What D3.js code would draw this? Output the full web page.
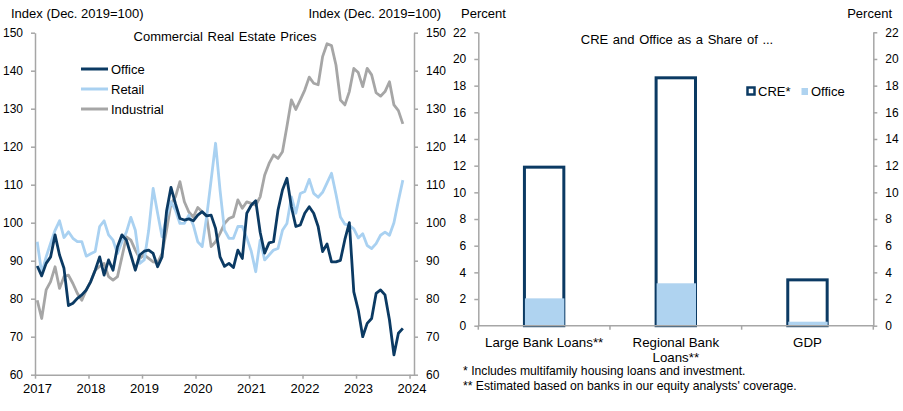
<!DOCTYPE html>
<html>
<head>
<meta charset="utf-8">
<script src="https://cdn.jsdelivr.net/npm/d3@7/dist/d3.min.js"></script>
<style>
    body { margin: 0; background: #fff; }
    svg { font-family: "Liberation Sans", Arial, sans-serif; }
    .axis path, .axis line { stroke: #a6a6a6; stroke-width: 1.5; }
    .axis text { fill: #000; font-size: 12px; }
    .x.axis text { font-size: 13px; }
    .label { font-size: 13px; fill: #000; }
</style>
</head>
<body>
<svg id="chart" width="903" height="411"></svg>
<script>
//Data - monthly index, Jan 2017 ... Nov 2023 (Dec. 2019=100)
const yearLabels = ['2017', '2018', '2019', '2020', '2021', '2022', '2023', '2024'];
const priceTicks = [60, 70, 80, 90, 100, 110, 120, 130, 140, 150];

const officeIndex = [
    88.6, 86, 89.3, 91, 96.8, 91.5, 88, 78.2, 78.8, 80.1, 81, 82.3,
    84.5, 87.5, 91, 86.2, 90.2, 87.5, 93.7, 96.8, 95.4, 91.5, 87.5, 91.5,
    92.5, 92.8, 91.9, 88.4, 91, 103, 109.3, 105, 101.1, 100.7, 101, 100.5,
    102, 102.9, 101.8, 102, 98.5, 91, 88.5, 89.3, 88.2, 92.8, 90.6, 102.5,
    104.6, 105.8, 97.5, 92, 94.7, 95, 103.3, 108.6, 111.7, 104.2, 99, 99.4,
    102.5, 104.2, 102.5, 99, 92.4, 94.4, 89.7, 89.7, 90.1, 95.6, 100, 81.8,
    77, 70, 73.5, 74.8, 81.4, 82.3, 81, 74.4, 65.2, 70.9, 72.2
];
const retailIndex = [
    95, 86.7, 91, 94.6, 98, 100.5, 96.1, 97.6, 95.9, 95, 95, 91.2,
    91.8, 92.4, 99, 100.5, 96.8, 95.4, 91.9, 95, 97.5, 101.4, 98, 89.3,
    90.2, 98, 109, 102.5, 96.3, 101.6, 105.5, 103.3, 99.8, 99.8, 102, 99.4,
    95, 93.7, 101.6, 111.2, 120.9, 108.6, 98, 95.9, 95.9, 99, 99, 96,
    92.5, 87.1, 95.4, 90.2, 91.5, 92.8, 93.2, 98, 99.8, 106.8, 102.5, 107.7,
    108.2, 111.4, 107.7, 106.7, 108, 110.5, 113, 107.5, 101.5, 99.6, 99.3, 98.4,
    96, 97.1, 94, 93.2, 94.5, 96.7, 97.5, 96.7, 100, 105.8, 111.2
];
const industrialIndex = [
    79.6, 74.8, 82.3, 84.5, 88.4, 82.7, 85.8, 86.2, 84, 81.4, 79.6, 82.3,
    84.5, 87.5, 88.5, 89.3, 85.8, 84.9, 85.8, 91, 96.3, 95.4, 92.8, 90.6,
    91.5, 90.6, 89.7, 89.5, 91.9, 98, 105, 106.8, 110.8, 105.5, 102.8, 101.5,
    104, 102.9, 101.6, 93.7, 95, 97.2, 99.8, 101.1, 101.6, 106, 103.8, 105.5,
    105.1, 104.6, 106.8, 112.5, 115.6, 117.8, 116.9, 118.7, 125.3, 132.3, 129.8, 132.3,
    134.9, 138.3, 136.7, 136.3, 143.7, 147.1, 146.6, 141.5, 132.3, 131, 134.5, 140.6,
    139.5, 135.8, 140.6, 138.9, 134.2, 133.3, 134.5, 137.1, 131, 129.5, 126
];

//Data - CRE and office shares, percent
const shareCategories = ['Large Bank Loans**', 'Regional Bank Loans**', 'GDP'];
const creShare = [12.0, 18.7, 3.55];
const officeShare = [2.05, 3.18, 0.3];
const shareTicks = [0, 2, 4, 6, 8, 10, 12, 14, 16, 18, 20, 22];

const colors = { office: '#0b3a63', retail: '#a9d1f1', industrial: '#a6a6a6', officeBar: '#afd3f0' };

const svg = d3.select('#chart');

function drawPrices() {
    const left = 35, right = 414, top = 32.7, bottom = 374.7;
    // 85 month slots, points sit between tick marks
    const xScale = d3.scaleLinear().domain([0, 85]).range([left, right]);
    const yScale = d3.scaleLinear().domain([60, 150]).range([bottom, top]);

    const g = svg.append('g').attr('class', 'prices');

    //axes
    g.append('g').attr('class', 'y axis')
        .attr('transform', `translate(${left},0)`)
        .call(d3.axisLeft(yScale).tickValues(priceTicks).tickSizeInner(4).tickSizeOuter(0).tickPadding(8));
    g.append('g').attr('class', 'y axis')
        .attr('transform', `translate(${right},0)`)
        .call(d3.axisRight(yScale).tickValues(priceTicks).tickSizeInner(4).tickSizeOuter(0).tickPadding(8));
    const xAxisDraw = g.append('g').attr('class', 'x axis')
        .attr('transform', `translate(0,${bottom})`)
        .call(d3.axisBottom(xScale).tickValues(d3.range(0, 85, 12))
            .tickFormat((d, i) => yearLabels[i]).tickSizeInner(4).tickSizeOuter(0).tickPadding(5));
    xAxisDraw.selectAll('text').attr('dx', '2');

    //lines - industrial at the back, office on top
    const line = d3.line().x((d, i) => xScale(i + 0.5)).y(d => yScale(d));
    const series = [
        { name: 'Industrial', values: industrialIndex, color: colors.industrial },
        { name: 'Retail', values: retailIndex, color: colors.retail },
        { name: 'Office', values: officeIndex, color: colors.office }
    ];
    g.selectAll('.series').data(series).join('path')
        .attr('class', 'series')
        .attr('d', d => line(d.values))
        .attr('fill', 'none')
        .attr('stroke', d => d.color)
        .attr('stroke-width', 2.8)
        .attr('stroke-linejoin', 'round');

    //titles
    svg.append('text').attr('class', 'label').attr('x', 11).attr('y', 18).text('Index (Dec. 2019=100)');
    svg.append('text').attr('class', 'label').attr('x', 441).attr('y', 18)
        .attr('text-anchor', 'end').text('Index (Dec. 2019=100)');
    g.append('text').attr('class', 'label').attr('x', 225).attr('y', 41)
        .attr('text-anchor', 'middle').style('word-spacing', '1px').text('Commercial Real Estate Prices');

    //legend
    const legend = g.selectAll('.legend').data(series.slice().reverse()).join('g')
        .attr('class', 'legend')
        .attr('transform', (d, i) => `translate(81,${69 + i * 20})`);
    legend.append('line').attr('x1', 0).attr('x2', 27)
        .attr('stroke', d => d.color).attr('stroke-width', 3);
    legend.append('text').attr('class', 'label').attr('x', 30).attr('y', 4.5).text(d => d.name);
}

function drawShares() {
    const left = 478.3, right = 873.3, top = 32.3, bottom = 325.7;
    const xScale = d3.scaleBand().domain(shareCategories).range([left, right])
        .paddingInner(0.678).paddingOuter(0.339);
    const yScale = d3.scaleLinear().domain([0, 22]).range([bottom, top]);

    const g = svg.append('g').attr('class', 'shares');

    g.append('g').attr('class', 'y axis')
        .attr('transform', `translate(${left},0)`)
        .call(d3.axisLeft(yScale).tickValues(shareTicks).tickSizeInner(4).tickSizeOuter(0).tickPadding(8));
    g.append('g').attr('class', 'y axis')
        .attr('transform', `translate(${right},0)`)
        .call(d3.axisRight(yScale).tickValues(shareTicks).tickSizeInner(4).tickSizeOuter(0).tickPadding(8));

    //CRE as outlined bars, office filled over them
    const bars = g.append('g').attr('class', 'bars');
    bars.selectAll('.cre').data(creShare).join('rect')
        .attr('class', 'cre')
        .attr('x', (d, i) => xScale(shareCategories[i]) + 1.5)
        .attr('y', d => yScale(d) + 1.5)
        .attr('width', xScale.bandwidth() - 3)
        .attr('height', d => bottom - yScale(d) - 1.5)
        .attr('fill', '#fff')
        .attr('stroke', colors.office)
        .attr('stroke-width', 3);
    bars.selectAll('.office').data(officeShare).join('rect')
        .attr('class', 'office')
        .attr('x', (d, i) => xScale(shareCategories[i]) + 2)
        .attr('y', d => yScale(d))
        .attr('width', xScale.bandwidth() - 3)
        .attr('height', d => bottom - yScale(d))
        .attr('fill', colors.officeBar);

    //category axis: ticks on the boundaries, labels in the middle
    const step = xScale.step();
    const xAxisDraw = g.append('g').attr('class', 'x axis')
        .attr('transform', `translate(0,${bottom})`);
    xAxisDraw.append('line').attr('x1', left).attr('x2', right);
    xAxisDraw.selectAll('.tick-line').data(d3.range(shareCategories.length + 1)).join('line')
        .attr('class', 'tick-line')
        .attr('x1', i => left + i * step).attr('x2', i => left + i * step)
        .attr('y1', 0).attr('y2', 4);
    const catLines = [['Large Bank Loans**'], ['Regional Bank', 'Loans**'], ['GDP']];
    xAxisDraw.selectAll('.cat').data(shareCategories).join('text')
        .attr('class', 'cat')
        .attr('x', d => xScale(d) + xScale.bandwidth() / 2)
        .attr('y', 21)
        .attr('text-anchor', 'middle')
        .style('font-size', '13.3px')
        .selectAll('tspan').data((d, i) => catLines[i]).join('tspan')
        .attr('x', function () { return this.parentNode.getAttribute('x'); })
        .attr('dy', (d, i) => i === 0 ? 0 : 15)
        .text(d => d);

    //titles
    svg.append('text').attr('class', 'label').attr('x', 461).attr('y', 18).text('Percent');
    svg.append('text').attr('class', 'label').attr('x', 892).attr('y', 18)
        .attr('text-anchor', 'end').text('Percent');
    g.append('text').attr('class', 'label').attr('x', 677).attr('y', 44)
        .attr('text-anchor', 'middle').style('word-spacing', '1px').text('CRE and Office as a Share of ...');

    //legend
    g.append('rect').attr('x', 747.5).attr('y', 87.5).attr('width', 7).attr('height', 7)
        .attr('fill', '#fff').attr('stroke', colors.office).attr('stroke-width', 2.5);
    g.append('text').attr('class', 'label').attr('x', 758).attr('y', 96).text('CRE*');
    g.append('rect').attr('x', 801.5).attr('y', 88).attr('width', 6.5).attr('height', 7)
        .attr('fill', colors.officeBar);
    g.append('text').attr('class', 'label').attr('x', 811).attr('y', 96).text('Office');

    //footnotes
    g.append('text').attr('x', 463).attr('y', 375).style('font-size', '12.2px')
        .text('* Includes multifamily housing loans and investment.');
    g.append('text').attr('x', 463).attr('y', 390).style('font-size', '12.2px')
        .text("** Estimated based on banks in our equity analysts' coverage.");
}

drawPrices();
drawShares();
</script>
</body>
</html>
